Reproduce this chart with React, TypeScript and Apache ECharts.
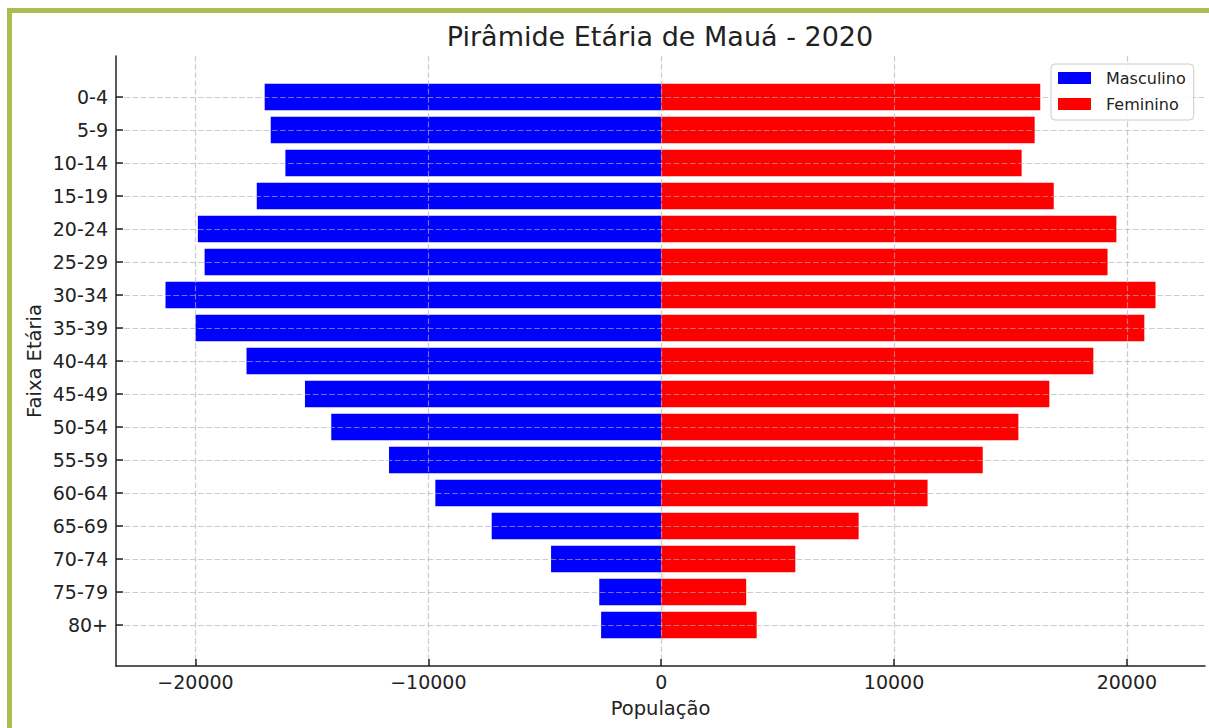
import React, { useEffect, useRef } from 'react';
import * as echarts from 'echarts';

const categories = ['0-4', '5-9', '10-14', '15-19', '20-24', '25-29', '30-34', '35-39', '40-44', '45-49', '50-54', '55-59', '60-64', '65-69', '70-74', '75-79', '80+'];
const masculino = [-17030, -16770, -16140, -17370, -19900, -19610, -21290, -20000, -17810, -15300, -14170, -11690, -9700, -7280, -4730, -2660, -2580];
const feminino = [16280, 16040, 15480, 16860, 19550, 19170, 21230, 20750, 18560, 16670, 15340, 13810, 11440, 8480, 5760, 3650, 4100];
const xTicks = [-20000, -10000, 0, 10000, 20000];

const FONT = 'DejaVu Sans';
const INK = '#222222';

export default function App() {
  const ref = useRef<HTMLDivElement>(null);
  useEffect(() => {
    if (!ref.current) return;
    const chart = echarts.init(ref.current, undefined, { renderer: 'svg' });
    const lo = Math.min(...masculino);
    const hi = Math.max(...feminino);
    const pad = (hi - lo) * 0.05;
    const xMin = lo - pad;
    const xMax = hi + pad;
    const gridLine = { color: '#b0b0b0', width: 1.2, type: [5.7, 2.5] as any, opacity: 0.65 };
    const fmt = (v: number) => (v < 0 ? '\u2212' + String(-v) : String(v));
    chart.setOption({
      animation: false,
      backgroundColor: '#ffffff',
      title: {
        text: 'Pirâmide Etária de Mauá - 2020',
        left: 655,
        top: 18,
        textAlign: 'center',
        textStyle: { fontFamily: FONT, fontSize: 27, fontWeight: 'normal', color: INK },
      },
      legend: {
        orient: 'vertical',
        left: 1051,
        top: 64,
        data: ['Masculino', 'Feminino'],
        icon: 'rect',
        itemWidth: 33,
        itemHeight: 12,
        itemGap: 8,
        padding: [5, 8, 7, 7],
        borderColor: '#cccccc',
        borderWidth: 1,
        borderRadius: 4,
        backgroundColor: 'rgba(255,255,255,0.85)',
        textStyle: { fontFamily: FONT, fontSize: 16, color: INK, lineHeight: 18, padding: [0, 0, 0, 10] },
      },
      grid: [
        { left: 116, right: 4, top: 56, bottom: 62 },
        { left: 116, right: 4, top: 97, bottom: 103 },
      ],
      xAxis: [
        {
          type: 'value',
          gridIndex: 0,
          min: xMin,
          max: xMax,
          z: 3,
          name: 'População',
          nameLocation: 'middle',
          nameGap: 32,
          nameTextStyle: { fontFamily: FONT, fontSize: 19.5, color: INK },
          axisLine: { show: true, onZero: false, lineStyle: { color: INK, width: 1.5 } },
          axisTick: { show: true, inside: true, length: 7, customValues: xTicks, lineStyle: { color: INK, width: 1.5 } },
          axisLabel: {
            show: true,
            margin: 6,
            customValues: xTicks,
            formatter: fmt,
            fontFamily: FONT,
            fontSize: 19,
            color: INK,
          },
          splitLine: { show: true, lineStyle: gridLine },
        },
        {
          type: 'value',
          gridIndex: 1,
          min: xMin,
          max: xMax,
          show: false,
        },
      ],
      yAxis: [
        {
          type: 'value',
          gridIndex: 0,
          min: 0,
          max: 1,
          z: 3,
          name: 'Faixa Etária',
          nameLocation: 'middle',
          nameGap: 72,
          nameTextStyle: { fontFamily: FONT, fontSize: 19.5, color: INK },
          axisLine: { show: true, onZero: false, lineStyle: { color: INK, width: 1.5 } },
          axisTick: { show: false },
          axisLabel: { show: false },
          splitLine: { show: false },
        },
        {
          type: 'category',
          gridIndex: 1,
          data: categories,
          inverse: true,
          boundaryGap: false,
          z: 3,
          axisLine: { show: false, onZero: false },
          axisTick: { show: true, inside: true, length: 7, interval: 0, lineStyle: { color: INK, width: 1.5 } },
          axisLabel: { show: true, interval: 0, margin: 8, fontFamily: FONT, fontSize: 19, color: INK },
          splitLine: { show: true, interval: 0, lineStyle: gridLine },
        },
      ],
      graphic: [
        {
          type: 'rect',
          silent: true,
          shape: { x: 9.5, y: 10.5, width: 1400, height: 900 },
          style: { fill: 'none', stroke: '#abbd50', lineWidth: 5 },
          z: 10,
        },
      ],
      series: [
        {
          name: 'Masculino',
          type: 'bar',
          xAxisIndex: 1,
          yAxisIndex: 1,
          data: masculino,
          barWidth: '80%',
          barGap: '-100%',
          clip: false,
          itemStyle: { color: '#0000ff' },
        },
        {
          name: 'Feminino',
          type: 'bar',
          xAxisIndex: 1,
          yAxisIndex: 1,
          data: feminino,
          barWidth: '80%',
          barGap: '-100%',
          clip: false,
          itemStyle: { color: '#ff0000' },
        },
      ],
    });
    return () => chart.dispose();
  }, []);
  return (
    <div
      ref={ref}
      style={{ position: 'fixed', left: 0, top: 0, width: 1209, height: 728, background: '#fff' }}
    />
  );
}
